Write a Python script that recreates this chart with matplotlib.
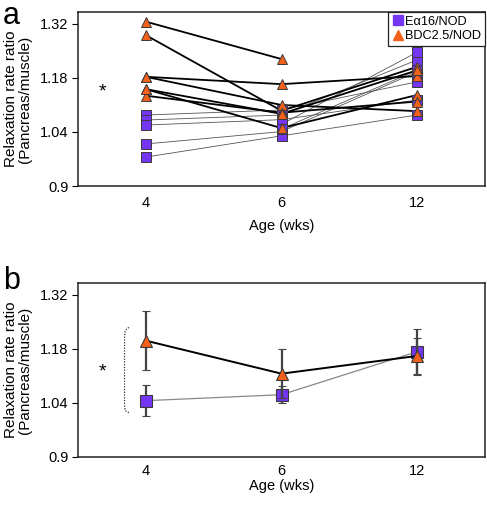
import numpy as np
import matplotlib
matplotlib.use("Agg")
import matplotlib.pyplot as plt
from matplotlib.lines import Line2D

plt.rcParams['font.family'] = ['Liberation Sans', 'DejaVu Sans']

ages = ["4", "6", "12"]

# Panel a: individual mice (nan = no measurement)
ea16_mice = [
    [1.084, 1.097, 1.170],
    [1.071, 1.084, 1.227],
    [1.058, 1.072, 1.123],
    [1.009, 1.041, 1.196],
    [0.975, 1.030, 1.084],
    [np.nan, 1.060, 1.247],
    [np.nan, 1.048, 1.200],
]
bdc_mice = [
    [1.326, 1.229, np.nan],
    [1.291, 1.095, 1.209],
    [1.183, 1.164, 1.185],
    [1.183, 1.110, 1.094],
    [1.151, 1.050, 1.136],
    [1.134, 1.090, 1.119],
    [1.151, 1.087, 1.200],
]

# Panel b: means and errors
ea16_mean = [1.046, 1.0615, 1.173]
ea16_err = [0.041, 0.022, 0.060]
bdc_mean = [1.2015, 1.116, 1.162]
bdc_err = [0.076, 0.063, 0.047]

yticks = [0.9, 1.04, 1.18, 1.32]
ytick_labels = ["0.9", "1.04", "1.18", "1.32"]

purple = '#7436F2'
orange = '#F2601A'
medge = '#3a3a3a'

fig = plt.figure(figsize=(4.87, 5.05), dpi=100)
axa = fig.add_axes([78/487, 1-186/505, 407/487, 174/505])
axb = fig.add_axes([78/487, 1-457/505, 407/487, 174/505])

x = np.arange(len(ages))
ms = 7.0

def style(ax, xpad, lpad):
    ax.set_xlim(-0.5, 2.5)
    ax.set_ylim(0.9, 1.351)
    ax.set_yticks(yticks)
    ax.set_yticklabels(ytick_labels)
    ax.set_xticks(x)
    ax.set_xticklabels(ages)
    ax.tick_params(axis='x', length=0, pad=xpad, labelsize=10.5)
    ax.tick_params(axis='y', length=4, width=0.8, direction='out', pad=3, labelsize=10.5)
    for s in ax.spines.values():
        s.set_linewidth(1.1)
        s.set_color('#222222')
    ax.set_xlabel("Age (wks)", fontsize=10.5, labelpad=lpad)
    ax.set_ylabel("Relaxation rate ratio\n(Pancreas/muscle)", fontsize=11, linespacing=1.0)
    ax.yaxis.set_label_coords(-0.112, 0.5)

# ---- Panel a
for m in ea16_mice:
    axa.plot(x, m, color='#555555', lw=0.6, zorder=2)
for m in bdc_mice:
    axa.plot(x, m, color='black', lw=1.3, zorder=3)
for m in ea16_mice:
    axa.plot(x, m, ls='none', marker='s', ms=ms, mfc=purple, mec=medge, mew=0.7, zorder=4)
for m in bdc_mice:
    axa.plot(x, m, ls='none', marker='^', ms=ms+0.5, mfc=orange, mec=medge, mew=0.7, zorder=5)
style(axa, 7, 7)
axa.text(-0.32, 1.145, "*", fontsize=14, ha='center', va='center')

handles = [
    Line2D([], [], ls='none', marker='s', ms=6.5, mfc=purple, mec=purple),
    Line2D([], [], ls='none', marker='^', ms=7, mfc=orange, mec=orange),
]
leg = axa.legend(handles, ["E\u03b116/NOD", "BDC2.5/NOD"], loc='upper right',
                 fontsize=9.2, frameon=True, fancybox=False, borderaxespad=0,
                 handletextpad=0.15, handlelength=0.9, borderpad=0.3,
                 labelspacing=0.2, framealpha=1)
leg.get_frame().set_edgecolor('#222222')
leg.get_frame().set_linewidth(0.9)

# ---- Panel b
axb.errorbar(x, ea16_mean, yerr=ea16_err, color='#888888', lw=0.9,
             ecolor='#444444', elinewidth=1.6, capsize=3, capthick=1.4,
             marker='s', ms=ms+1, mfc=purple, mec=medge, mew=0.8, zorder=3)
axb.errorbar(x, bdc_mean, yerr=bdc_err, color='black', lw=1.4,
             ecolor='#444444', elinewidth=1.6, capsize=3, capthick=1.4,
             marker='^', ms=ms+1.5, mfc=orange, mec=medge, mew=0.8, zorder=4)
style(axb, 5, 1)
axb.text(-0.32, 1.12, "*", fontsize=14, ha='center', va='center')
# dotted bracket
bx = [-0.125, -0.152, -0.157, -0.157, -0.152, -0.125]
by = [1.236, 1.228, 1.21, 1.035, 1.02, 1.015]
axb.plot(bx, by, color='#333333', lw=0.9, ls=(0, (1, 1.2)))

fig.text(3/487, 0.999, "a", fontsize=22, ha='left', va='top')
fig.text(3/487, 1-289/505, "b", fontsize=22, ha='left', va='baseline')

fig.savefig("out.png", dpi=100)
